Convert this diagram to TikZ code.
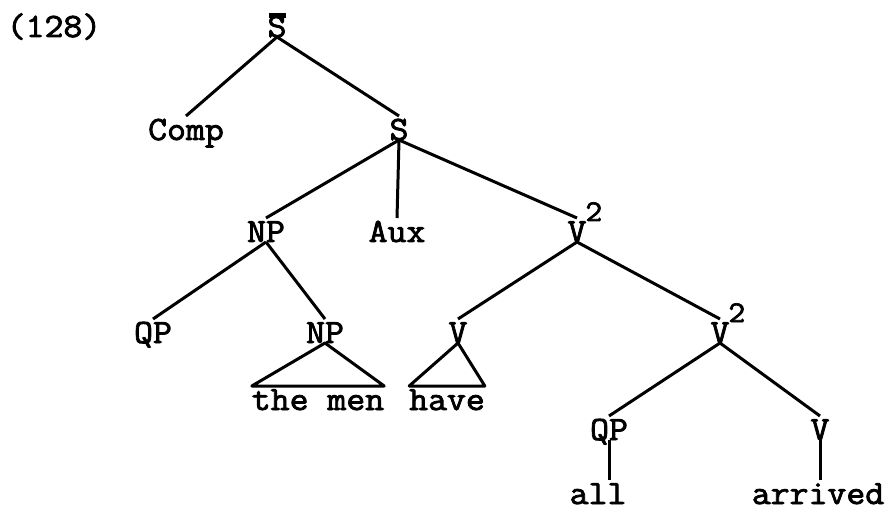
\documentclass[tikz,border=0pt]{standalone}
\usepackage{fontspec}
\setmonofont[FakeStretch=1.08,FakeBold=2.4]{Latin Modern Mono}
\newcommand{\sbarlabel}{\rlap{\kern1.2pt\rule[19pt]{17pt}{4.5pt}}S}
\newcommand{\vtwolabel}{V\rlap{\kern-1pt\raisebox{21pt}{\fontsize{30}{30}\selectfont 2}}}
\begin{document}
\begin{tikzpicture}[x=1pt,y=-1pt,line width=3pt,
    every node/.style={font=\ttfamily\fontsize{34}{36}\selectfont, inner sep=0pt, outer sep=0pt, anchor=base},
    cat/.style={text height=24pt, text depth=0pt},
    word/.style={text height=24pt, text depth=0pt}]
      \useasboundingbox (0,0) rectangle (890,510);
      \node (ex) at (54,37) {(128)};
      \node[cat] (sbar) at (277,37) {\sbarlabel};
      \node[cat] (comp) at (186,140) {Comp};
      \node[cat] (s) at (399,140) {S};
      \node[cat] (np1) at (266,242) {NP};
      \node[cat] (aux) at (397,242) {Aux};
      \node[cat] (vtwo1) at (577,242) {\vtwolabel};
      \node[cat] (qp1) at (153,343) {QP};
      \node[cat] (np2) at (325,343) {NP};
      \node[cat] (v1) at (458,343) {V};
      \node[cat] (vtwo2) at (720,343) {\vtwolabel};
      \node[word] (themen) at (318,410) {the men};
      \node[word] (have) at (447,410) {have};
      \node[cat] (qp2) at (609,440) {QP};
      \node[cat] (v2) at (820,440) {V};
      \node[word] (all) at (598,504) {all};
      \node[word] (arrived) at (818,504) {arrived};
      \draw (sbar.south) -- (comp.north);
      \draw (sbar.south) -- (s.north);
      \draw (s.south) -- (np1.north);
      \draw (s.south) -- (aux.north);
      \draw (s.south) -- (vtwo1.north);
      \draw (np1.south) -- (qp1.north);
      \draw (np1.south) -- (np2.north);
      \draw (vtwo1.south) -- (v1.north);
      \draw (vtwo1.south) -- (vtwo2.north);
      \draw[line join=round] (np2.south) -- (themen.north east) -- (themen.north west) -- cycle;
      \draw[line join=round] (v1.south) -- (have.north east) -- (have.north west) -- cycle;
      \draw (vtwo2.south) -- (qp2.north);
      \draw (vtwo2.south) -- (v2.north);
      \draw (qp2.south) -- (qp2.south |- all.north);
      \draw (v2.south) -- (v2.south |- arrived.north);
\end{tikzpicture}
\end{document}
